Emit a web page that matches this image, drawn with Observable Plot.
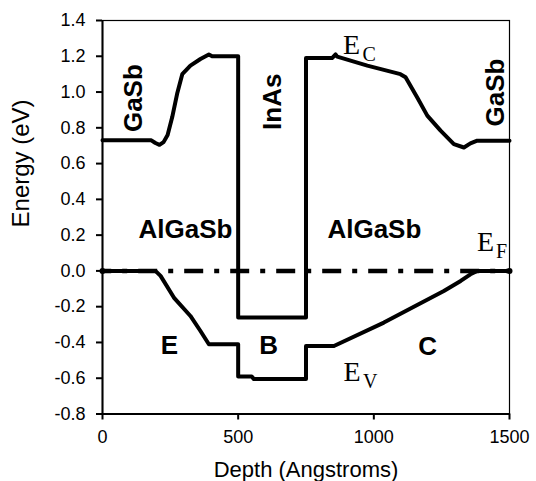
<!DOCTYPE html>
<html>
<head>
<meta charset="utf-8">
<script src="https://cdn.jsdelivr.net/npm/d3@7"></script>
<script src="https://cdn.jsdelivr.net/npm/@observablehq/plot@0.6"></script>
<style>
  html, body { margin: 0; padding: 0; background: #fff; }
  #chart svg { display: block; }
</style>
</head>
<body>
<div id="chart"></div>
<script>
// Conduction band edge (Ec)
const ecDepth  = [0, 180, 195, 210, 225, 240, 257, 275, 294, 324, 361, 392, 404, 500, 500, 750, 750, 846, 859, 865, 976, 1098, 1117, 1160, 1197, 1246, 1295, 1332, 1356, 1381, 1500];
const ecEnergy = [0.73, 0.73, 0.715, 0.705, 0.72, 0.76, 0.86, 0.99, 1.10, 1.148, 1.185, 1.21, 1.2, 1.2, -0.26, -0.26, 1.19, 1.19, 1.21, 1.198, 1.148, 1.10, 1.083, 0.97, 0.868, 0.784, 0.709, 0.69, 0.713, 0.728, 0.728];
// Valence band edge (Ev)
const evDepth  = [0, 195, 214, 263, 324, 361, 392, 500, 500, 550, 558, 750, 750, 853, 1037, 1258, 1320, 1356, 1381, 1500];
const evEnergy = [0, 0, -0.028, -0.149, -0.252, -0.336, -0.41, -0.41, -0.59, -0.59, -0.605, -0.605, -0.42, -0.42, -0.289, -0.112, -0.056, -0.019, 0, 0];
// Fermi level (Ef)
const efDepth  = [0, 1500];
const efEnergy = [0, 0];
// Ticks
const xTicks = [0, 500, 1000, 1500];
const yTicks = [-0.8, -0.6, -0.4, -0.2, 0, 0.2, 0.4, 0.6, 0.8, 1.0, 1.2, 1.4];
// Region labels
const vLabels = ["GaSb", "InAs", "GaSb"];
const vLabelDepth = [114, 627, 1448];
const vLabelEnergy = [0.966, 0.946, 0.997];
const hLabels = ["AlGaSb", "AlGaSb", "E", "B", "C"];
const hLabelDepth = [306, 1002, 247, 612, 1198];
const hLabelEnergy = [0.186, 0.186, -0.465, -0.465, -0.47];
// Band labels (letter + subscript)
const bandMain = ["E", "E", "E"];
const bandMainDepth = [886, 888, 1380];
const bandMainEnergy = [1.215, -0.616, 0.112];
const bandSub = ["C", "V", "F"];
const bandSubDepth = [958, 960, 1450];
const bandSubEnergy = [1.176, -0.655, 0.073];

const ec = ecDepth.map((d, i) => ({depth: d, energy: ecEnergy[i]}));
const ev = evDepth.map((d, i) => ({depth: d, energy: evEnergy[i]}));
const ef = efDepth.map((d, i) => ({depth: d, energy: efEnergy[i]}));
const vL = vLabels.map((t, i) => ({t, depth: vLabelDepth[i], energy: vLabelEnergy[i]}));
const hL = hLabels.map((t, i) => ({t, depth: hLabelDepth[i], energy: hLabelEnergy[i]}));
const bM = bandMain.map((t, i) => ({t, depth: bandMainDepth[i], energy: bandMainEnergy[i]}));
const bS = bandSub.map((t, i) => ({t, depth: bandSubDepth[i], energy: bandSubEnergy[i]}));

const sans = "'Liberation Sans', Arial, Helvetica, sans-serif";
const serif = "'Liberation Serif', 'Times New Roman', serif";

const chart = Plot.plot({
  width: 536,
  height: 481,
  marginLeft: 102,
  marginRight: 27,
  marginTop: 20,
  marginBottom: 67.5,
  style: {fontFamily: sans, background: "#fff", color: "#000"},
  x: {domain: [0, 1500], label: null},
  y: {domain: [-0.8, 1.4], label: null},
  marks: [
    Plot.frame({stroke: "#000", strokeWidth: 1.2}),
    Plot.ruleX([0], {stroke: "#000", strokeWidth: 2}),
    Plot.ruleY([-0.8], {stroke: "#000", strokeWidth: 2}),
    Plot.axisX(xTicks, {tickSize: 6, tickPadding: 10, fontSize: 18, strokeWidth: 2, label: null, tickFormat: d => String(d), fill: "#000", stroke: "#000"}),
    Plot.axisY(yTicks, {tickSize: 6, tickPadding: 11, fontSize: 18, strokeWidth: 2, label: null, tickFormat: d => d.toFixed(1), fill: "#000", stroke: "#000"}),
    Plot.text(["Depth (Angstroms)"], {frameAnchor: "bottom", dy: 63, lineAnchor: "bottom", fontSize: 22, fill: "#000"}),
    Plot.text(["Energy (eV)"], {frameAnchor: "left", dx: -73.7, dy: 10.2, rotate: -90, lineAnchor: "bottom", fontSize: 24, fill: "#000"}),
    Plot.line(ef, {x: "depth", y: "energy", stroke: "#000", strokeWidth: 4.5, strokeDasharray: "19,11,5,11", strokeDashoffset: 10.3, strokeLinecap: "butt"}),
    Plot.dot(ef, {x: "depth", y: "energy", r: 3, fill: "#000"}),
    Plot.line(ec, {x: "depth", y: "energy", stroke: "#000", strokeWidth: 4, strokeLinejoin: "round"}),
    Plot.line(ev, {x: "depth", y: "energy", stroke: "#000", strokeWidth: 4, strokeLinejoin: "round"}),
    Plot.text(vL, {x: "depth", y: "energy", text: "t", rotate: -90, fontSize: 26, fontWeight: "bold", fill: "#000"}),
    Plot.text(hL, {x: "depth", y: "energy", text: "t", lineAnchor: "bottom", fontSize: 26, fontWeight: "bold", fill: "#000"}),
    Plot.text(bM, {x: "depth", y: "energy", text: "t", lineAnchor: "bottom", textAnchor: "start", fontSize: 28, fontFamily: serif, fill: "#000"}),
    Plot.text(bS, {x: "depth", y: "energy", text: "t", lineAnchor: "bottom", textAnchor: "start", fontSize: 20, fontFamily: serif, fill: "#000"})
  ]
});
document.getElementById("chart").appendChild(chart);
</script>
</body>
</html>
